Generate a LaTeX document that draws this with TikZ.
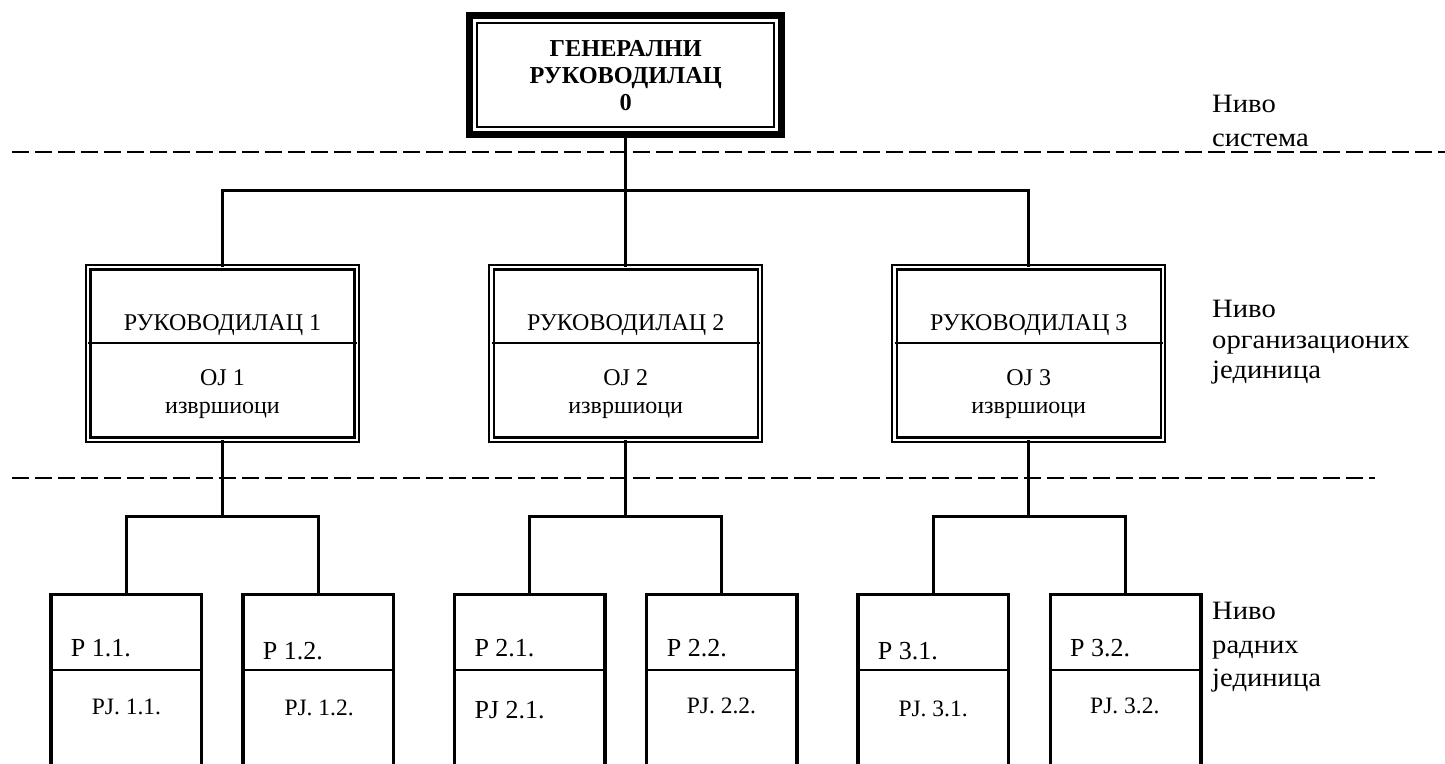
\documentclass[tikz,border=0pt]{standalone}
\usepackage{fontspec}
\setmainfont{Liberation Serif}
\newcommand\setfs[1]{\fontsize{#1pt}{#1pt}\selectfont}
\newcommand\wide[1]{\scalebox{1.08}[1]{#1}}
\begin{document}
\begin{tikzpicture}[x=1pt,y=-1pt,
  conn/.style={line width=3pt},
  lvlline/.style={line width=1.8pt, dash pattern=on 17pt off 6pt},
  topbox/.style={draw, line width=7.3pt, minimum width=312pt, minimum height=119.4pt, inner sep=0pt, outer sep=0pt},
  midbox/.style={draw, double, line width=2.2pt, double distance=2.2pt, minimum width=268.4pt, minimum height=172.4pt, inner sep=0pt, outer sep=0pt},
  botbox/.style={draw, line width=3.3pt, minimum width=150.7pt, minimum height=240pt, inner sep=0pt, outer sep=0pt, anchor=north},
  divider/.style={line width=2.7pt},
  txt/.style={inner sep=0pt, anchor=base},
  txtl/.style={inner sep=0pt, anchor=base west},
  bold/.style={font=\setfs{24.3}\bfseries},
  midf/.style={font=\setfs{24}},
  pf/.style={font=\setfs{26}},
  pjf/.style={font=\setfs{23.5}},
  lvlf/.style={font=\setfs{26.5}},
]
\useasboundingbox (0,0) rectangle (1445,763);
\clip (0,0) rectangle (1445,763);

% level separators
\draw[lvlline] (12,152) -- (1445,152);
\draw[lvlline] (12,478) -- (1375,478);

% general manager
\node[topbox] (gm) at (625.7,75) {};
\draw[line width=2pt] ([shift={(7.3pt,-7.4pt)}]gm.north west) rectangle ([shift={(-7.3pt,7.4pt)}]gm.south east);
\node[txt,bold] (gm1) at (625.7,56.7) {ГЕНЕРАЛНИ};
\node[txt,bold] (gm2) at (625.7,83.3) {РУКОВОДИЛАЦ};
\node[txt,bold] (gm3) at (625.7,110) {0};

% organisational units
\foreach \i/\cx in {1/222.5, 2/625.7, 3/1028.7}{
  \node[midbox] (m\i) at (\cx,353.5) {};
  \draw[divider] ([yshift=-75.7pt]m\i.north west) -- ([yshift=-75.7pt]m\i.north east);
  \node[txt,midf] (m\i a) at (\cx,330) {РУКОВОДИЛАЦ \i};
  \node[txt,midf] (m\i b) at (\cx,385) {ОЈ \i};
  \node[txt,midf] (m\i c) at (\cx,413) {извршиоци};
}

% work units
\foreach \n/\cx in {11/126.3, 12/318.3, 21/529.7, 22/721.5, 31/933.3, 32/1125.5}{
  \node[botbox] (b\n) at (\cx,594.3) {};
  \draw[divider] ([yshift=-75.7pt]b\n.north west) -- ([yshift=-75.7pt]b\n.north east);
}

\node[txtl,pf] (p11) at (70.7,656.7) {Р 1.1.};
\node[txtl,pjf] (q11) at (91.7,714) {РЈ. 1.1.};
\node[txtl,pf] (p12) at (262.7,659.3) {Р 1.2.};
\node[txtl,pjf] (q12) at (284.3,715.7) {РЈ. 1.2.};
\node[txtl,pf] (p21) at (474.3,656.7) {Р 2.1.};
\node[txtl,pf] (q21) at (474.3,718.3) {РЈ 2.1.};
\node[txtl,pf] (p22) at (666.7,656.7) {Р 2.2.};
\node[txtl,pjf] (q22) at (686.7,713.3) {РЈ. 2.2.};
\node[txtl,pf] (p31) at (877.7,659.3) {Р 3.1.};
\node[txtl,pjf] (q31) at (898.3,716.7) {РЈ. 3.1.};
\node[txtl,pf] (p32) at (1070,656.7) {Р 3.2.};
\node[txtl,pjf] (q32) at (1090,713.3) {РЈ. 3.2.};

% connectors
\coordinate (hub) at (625.7,190.7);
\draw[conn] (gm.south) -- (m2.north);
\draw[conn] (m1.north) |- (hub) -| (m3.north);

\foreach \i/\cx in {1/222.5, 2/625.7, 3/1028.7}{
  \coordinate (j\i) at (\cx,516);
  \draw[conn] (m\i.south) -- (j\i);
  \draw[conn] (b\i1.north) |- (j\i) -| (b\i2.north);
}

% level labels
\node[txtl,lvlf] (l1a) at (1212,112.3) {\wide{Ниво}};
\node[txtl,lvlf] (l1b) at (1212,146.7) {\wide{система}};
\node[txtl,lvlf] (l2a) at (1212,317.7) {\wide{Ниво}};
\node[txtl,lvlf] (l2b) at (1212,348) {\wide{организационих}};
\node[txtl,lvlf] (l2c) at (1212,378.3) {\wide{јединица}};
\node[txtl,lvlf] (l3a) at (1212,619) {\wide{Ниво}};
\node[txtl,lvlf] (l3b) at (1212,653) {\wide{радних}};
\node[txtl,lvlf] (l3c) at (1212,686.7) {\wide{јединица}};
\end{tikzpicture}
\end{document}
